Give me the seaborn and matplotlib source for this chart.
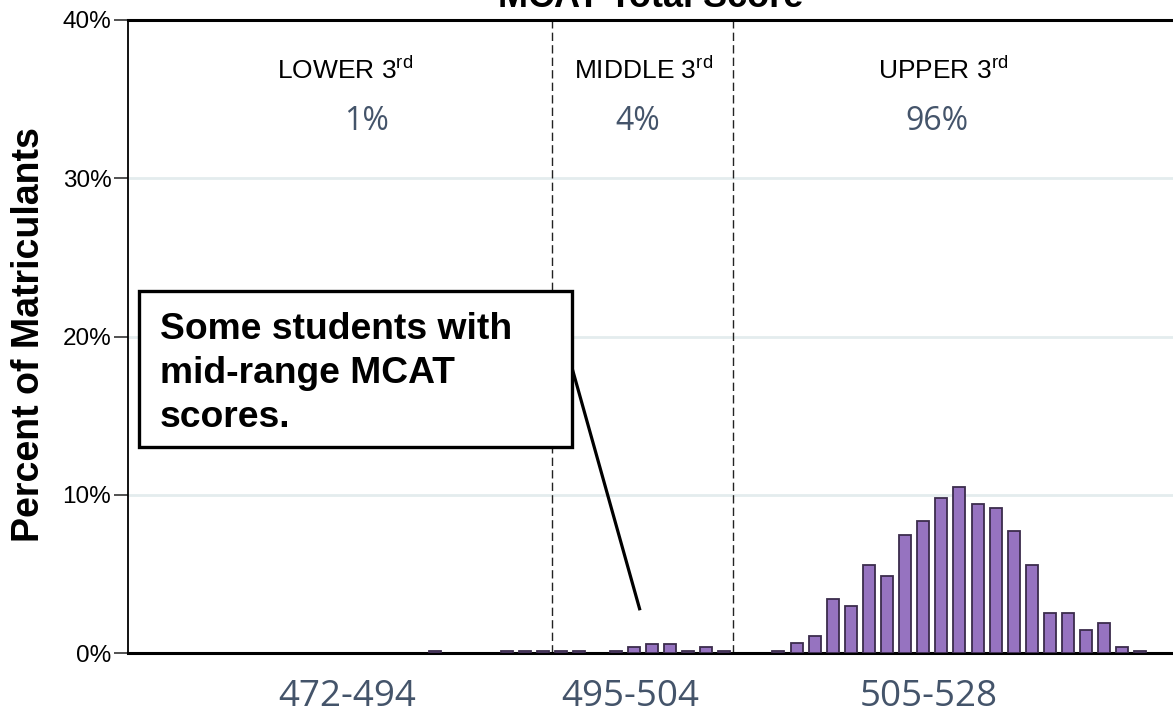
import numpy as np
import pandas as pd
import matplotlib.pyplot as plt
import seaborn as sns
from matplotlib.patches import Rectangle

# MCAT total score -> percent of matriculants
scores = list(range(472, 529))
pct_values = {
    488: 0.1, 492: 0.1, 493: 0.1, 494: 0.1, 495: 0.1, 496: 0.1,
    498: 0.1, 499: 0.36, 500: 0.59, 501: 0.59, 502: 0.1, 503: 0.36, 504: 0.1,
    507: 0.15, 508: 0.61, 509: 1.05, 510: 3.40, 511: 2.95, 512: 5.53,
    513: 4.87, 514: 7.43, 515: 8.33, 516: 9.79, 517: 10.46, 518: 9.41,
    519: 9.18, 520: 7.68, 521: 5.53, 522: 2.51, 523: 2.51, 524: 1.43,
    525: 1.88, 526: 0.36, 527: 0.15,
}
percent = [pct_values.get(s, 0.0) for s in scores]

thirds = ["LOWER 3", "MIDDLE 3", "UPPER 3"]
third_share = ["1%", "4%", "96%"]
third_ranges = ["472-494", "495-504", "505-528"]
cut_points = [494.5, 504.5]
y_ticks = [0, 10, 20, 30, 40]
y_tick_labels = ["0%", "10%", "20%", "30%", "40%"]
note_lines = ["Some students with", "mid-range MCAT", "scores."]

sns.set_style("white")
plt.rcParams['font.family'] = ['Liberation Sans', 'DejaVu Sans']
plt.rcParams['text.color'] = 'black'
plt.rcParams['mathtext.fontset'] = 'custom'
plt.rcParams['mathtext.rm'] = 'Liberation Sans'

W, H = 1173, 716
fig = plt.figure(figsize=(W / 100, H / 100), dpi=100)
ax = fig.add_axes([128 / W, (H - 653) / H, 1 - 128 / W, (653 - 20) / H])

df = pd.DataFrame({"score": scores, "percent": percent})
df = df[df["percent"] > 0]
sns.barplot(data=df, x="score", y="percent", native_scale=True, width=0.66,
            color="#9673c0", saturation=1, edgecolor="#3b2c4c", linewidth=1.3, ax=ax, zorder=3)

ax.set_xlim(471.06, 528.8)
ax.set_ylim(0, 40)
ax.set_xticks([])
ax.set_yticks(y_ticks)
ax.set_yticklabels(y_tick_labels, fontsize=17.5, color="black")
ax.tick_params(axis="y", direction="out", length=10, width=1.2, pad=2, left=True, color="#333333")
ax.set_xlabel("")
ax.set_ylabel("")

for y in y_ticks[1:-1]:
    ax.axhline(y, color="#e4ecee", linewidth=2, zorder=0)

for c in cut_points:
    ax.axvline(c, color="#222222", linestyle=(0, (6, 3)), linewidth=1.0, zorder=2)

for side in ["left", "bottom", "top"]:
    ax.spines[side].set_visible(True)
    ax.spines[side].set_color("black")
ax.spines["left"].set_linewidth(1.3)
ax.spines["bottom"].set_linewidth(2.2)
ax.spines["top"].set_linewidth(2.2)
ax.spines["right"].set_visible(False)


def px(x, y):
    return x / W, 1 - y / H


# title, mostly cut off at the top edge
fig.text(*px(651, 7), "MCAT Total Score", ha="center", va="baseline",
         fontsize=26, fontweight="bold", color="black")

# y label
fig.text(*px(29, 335), "Percent of Matriculants", rotation=90, ha="center", va="center",
         fontsize=27, fontweight="bold", color="black")

# region headings and shares
for name, share, rng, xh, xs, xr in zip(thirds, third_share, third_ranges,
                                        [345, 644, 943], [367, 638, 937], [347, 630, 929]):
    fig.text(*px(xh, 79), name + r"$^{\mathrm{rd}}$", ha="center", va="baseline",
             fontsize=19, color="black")
    fig.text(*px(xs, 122), share, ha="center", va="center", fontsize=23,
             color="#44546a", family=['Open Sans', 'DejaVu Sans'])
    fig.text(*px(xr, 697), rng, ha="center", va="center", fontsize=26.5,
             color="#44546a", family=['Open Sans', 'DejaVu Sans'])

# annotation box and pointer line
box = Rectangle(px(139, 447), (572 - 139) / W, (447 - 291) / H, transform=fig.transFigure,
                facecolor="white", edgecolor="black", linewidth=2.4, zorder=5)
fig.patches.append(box)
for i, line in enumerate(note_lines):
    fig.text(*px(160, 339 + 44 * i), line, ha="left", va="baseline",
             fontsize=26.8, fontweight="bold", color="black", zorder=6)

ax.plot([495.5, 499.35], [18.4, 2.7], color="black", linewidth=2.3, zorder=4,
        solid_capstyle="butt")

fig.savefig("out.png", dpi=100)
